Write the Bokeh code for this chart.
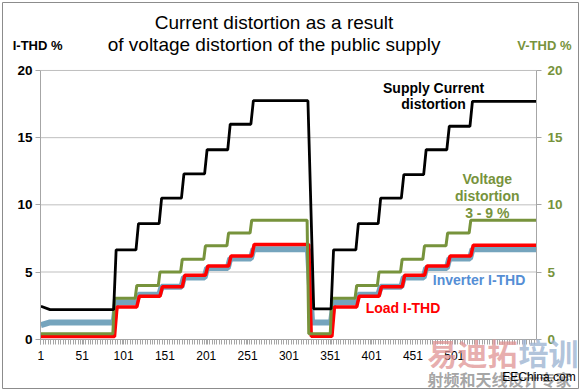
from bokeh.plotting import figure
from bokeh.models import Range1d, LinearAxis, FixedTicker, Label
from bokeh.embed import file_html
from bokeh.resources import INLINE

# ---------------- data ----------------
n_samples = 600
x_tick_labels = [1, 51, 101, 151, 201, 251, 301, 351, 401, 451, 501]
y_ticks = [0, 5, 10, 15, 20]
grid_ticks = [5, 10, 15, 20]

# sample index where each step of the load ramp begins
step_starts_1 = [89, 116, 144, 171, 199, 227, 255]
drop_start = 324
step_starts_2 = [352, 382, 409, 437, 464, 492, 520]

# Supply current distortion (I-THD %, left axis)
supply_start = 2.45
supply_base = 2.2
supply_levels_1 = [6.65, 8.6, 10.5, 12.3, 14.1, 16.0, 17.75]
supply_dip = 2.25
supply_levels_2 = [6.65, 8.6, 10.5, 12.25, 14.1, 15.85, 17.7]

# Voltage distortion (V-THD %, right axis)
voltage_start = 0.4
voltage_base = 0.4
voltage_levels_1 = [3.05, 4.0, 5.0, 5.95, 6.95, 7.9, 8.85]
voltage_dip = 0.4
voltage_levels_2 = [3.05, 4.0, 5.0, 5.95, 6.95, 7.9, 8.85]

# Load I-THD
load_start = 0.2
load_base = 0.2
load_levels_1 = [2.4, 3.2, 3.9, 4.75, 5.45, 6.2, 7.05]
load_dip = 0.22
load_levels_2 = [2.4, 3.2, 3.9, 4.75, 5.45, 6.2, 7.0]

# Inverter I-THD
inverter_start = 1.05
inverter_base = 1.25
inverter_levels_1 = [2.75, 3.3, 3.9, 4.6, 5.3, 6.0, 6.7]
inverter_dip = 1.25
inverter_levels_2 = [2.75, 3.3, 3.9, 4.6, 5.3, 6.0, 6.7]


def build_series(start_val, base_val, levels1, dip_val, levels2, shift, rise, drop_len):
    xs = [1, 12]
    ys = [start_val, base_val]
    prev = base_val
    for s, lv in zip(step_starts_1, levels1):
        xs += [s + shift, s + shift + rise]
        ys += [prev, lv]
        prev = lv
    xs += [drop_start + shift, drop_start + shift + drop_len]
    ys += [prev, dip_val]
    prev = dip_val
    for s, lv in zip(step_starts_2, levels2):
        xs += [s + shift, s + shift + rise]
        ys += [prev, lv]
        prev = lv
    xs.append(n_samples)
    ys.append(prev)
    return xs, ys


FONT = "Liberation Sans"
GREEN = "#77933C"
AXIS_GRAY = "#A6A6A6"
X_LO, X_HI = 0.5, n_samples + 0.5

# The frame fills the chart; axes are pinned at the plot-area edges.
p = figure(width=580, height=390, title=None,
           x_range=Range1d(-45.47, 651.3), y_range=Range1d(-3.67, 25.06),
           output_backend="svg", toolbar_location=None,
           min_border_left=2, min_border_right=2, min_border_top=2, min_border_bottom=2)
p.outline_line_color = "#8C8C8C"
p.outline_line_width = 1
p.background_fill_color = "white"
p.border_fill_color = "white"
p.extra_y_ranges = {"v": Range1d(-3.67, 25.06)}
p.xgrid.visible = False
p.ygrid.visible = False

# horizontal gridlines across the plot area
p.segment(x0=[X_LO] * len(grid_ticks), x1=[X_HI] * len(grid_ticks), y0=grid_ticks,
          y1=grid_ticks, line_color="#BFBFBF", line_width=1, level="underlay")

# bottom axis
xa = p.below[0]
xa.fixed_location = 0
xa.bounds = (X_LO, X_HI)
xa.ticker = FixedTicker(ticks=x_tick_labels, minor_ticks=list(range(1, n_samples + 1, 3)))
xa.axis_line_color = AXIS_GRAY
xa.major_tick_line_color = AXIS_GRAY
xa.minor_tick_line_color = AXIS_GRAY
xa.major_tick_in = 0
xa.major_tick_out = 5
xa.minor_tick_in = 0
xa.minor_tick_out = 5
xa.major_label_text_font = FONT
xa.major_label_text_font_size = "12px"
xa.major_label_text_color = "black"
xa.major_label_standoff = 7

# left axis
ya = p.left[0]
ya.fixed_location = X_LO
ya.bounds = (0, 20)
ya.ticker = FixedTicker(ticks=y_ticks, minor_ticks=[])
ya.axis_line_color = AXIS_GRAY
ya.major_tick_line_color = AXIS_GRAY
ya.major_tick_in = 0
ya.major_tick_out = 5
ya.minor_tick_line_color = None
ya.major_label_text_font = FONT
ya.major_label_text_font_size = "13.5px"
ya.major_label_text_font_style = "bold"
ya.major_label_text_color = "black"
ya.major_label_standoff = 3

# right axis
ra = LinearAxis(y_range_name="v", ticker=FixedTicker(ticks=y_ticks, minor_ticks=[]))
ra.fixed_location = X_HI
ra.bounds = (0, 20)
ra.axis_line_color = AXIS_GRAY
ra.major_tick_line_color = AXIS_GRAY
ra.major_tick_in = 0
ra.major_tick_out = 5
ra.minor_tick_line_color = None
ra.major_label_text_font = FONT
ra.major_label_text_font_size = "13.5px"
ra.major_label_text_font_style = "bold"
ra.major_label_text_color = GREEN
ra.major_label_standoff = 6
p.add_layout(ra, "right")

# series
ix, iy = build_series(inverter_start, inverter_base, inverter_levels_1, inverter_dip,
                      inverter_levels_2, 0, 3, 5)
p.line(ix, iy, line_color="#6E9FB9", line_width=6, line_alpha=0.95)

lx, ly = build_series(load_start, load_base, load_levels_1, load_dip, load_levels_2, 1, 3, 3)
p.line(lx, ly, line_color="#FF0000", line_width=3.5)

vx, vy = build_series(voltage_start, voltage_base, voltage_levels_1, voltage_dip,
                      voltage_levels_2, -1, 2, 2)
p.line(vx, vy, line_color=GREEN, line_width=3, y_range_name="v")

sx, sy = build_series(supply_start, supply_base, supply_levels_1, supply_dip,
                      supply_levels_2, 0, 3, 7)
p.line(sx, sy, line_color="black", line_width=2.8)


def add_label(x, y, text, size, color="black", style="bold", align="center", font=FONT, alpha=1.0):
    p.add_layout(Label(x=x, y=y, text=text, text_font=font, text_font_size=size,
                       text_font_style=style, text_color=color, text_align=align,
                       text_baseline="middle", text_alpha=alpha))


# title
add_label(283, 23.6, "Current distortion as a result", "19px", style="normal")
add_label(283, 21.9, "of voltage distortion of the public supply", "19px", style="normal")
# axis titles
add_label(-3, 21.85, "I-THD %", "13px")
add_label(610, 21.85, "V-THD %", "13px", color=GREEN)

# in-plot annotations
add_label(476, 18.67, "Supply Current", "14px")
add_label(476, 17.47, "distortion", "14px")
add_label(541, 11.96, "Voltage", "14px", color=GREEN)
add_label(541, 10.69, "distortion", "14px", color=GREEN)
add_label(541, 9.42, "3 - 9 %", "14px", color=GREEN)
add_label(531, 4.37, "Inverter I-THD", "14px", color="#558ED5")
add_label(439, 2.29, "Load I-THD", "14px", color="#FF0000")

# watermark
add_label(468.6, -0.99, "易迪拓", "30px", color="#E09494", align="left",
          font="Noto Sans CJK SC", alpha=0.75)
add_label(578.7, -0.99, "培训", "30px", color="#9DB4D2", align="left",
          font="Noto Sans CJK SC", alpha=0.8)
add_label(468.6, -2.98, "射频和天线设计专家", "16px", color="#9A9A9A", align="left",
          font="Noto Sans CJK SC", alpha=0.9)
add_label(603.5, -2.78, "EEChina.com", "12px", color="black", style="normal")

open("out.html", "w").write(file_html(p, INLINE))
